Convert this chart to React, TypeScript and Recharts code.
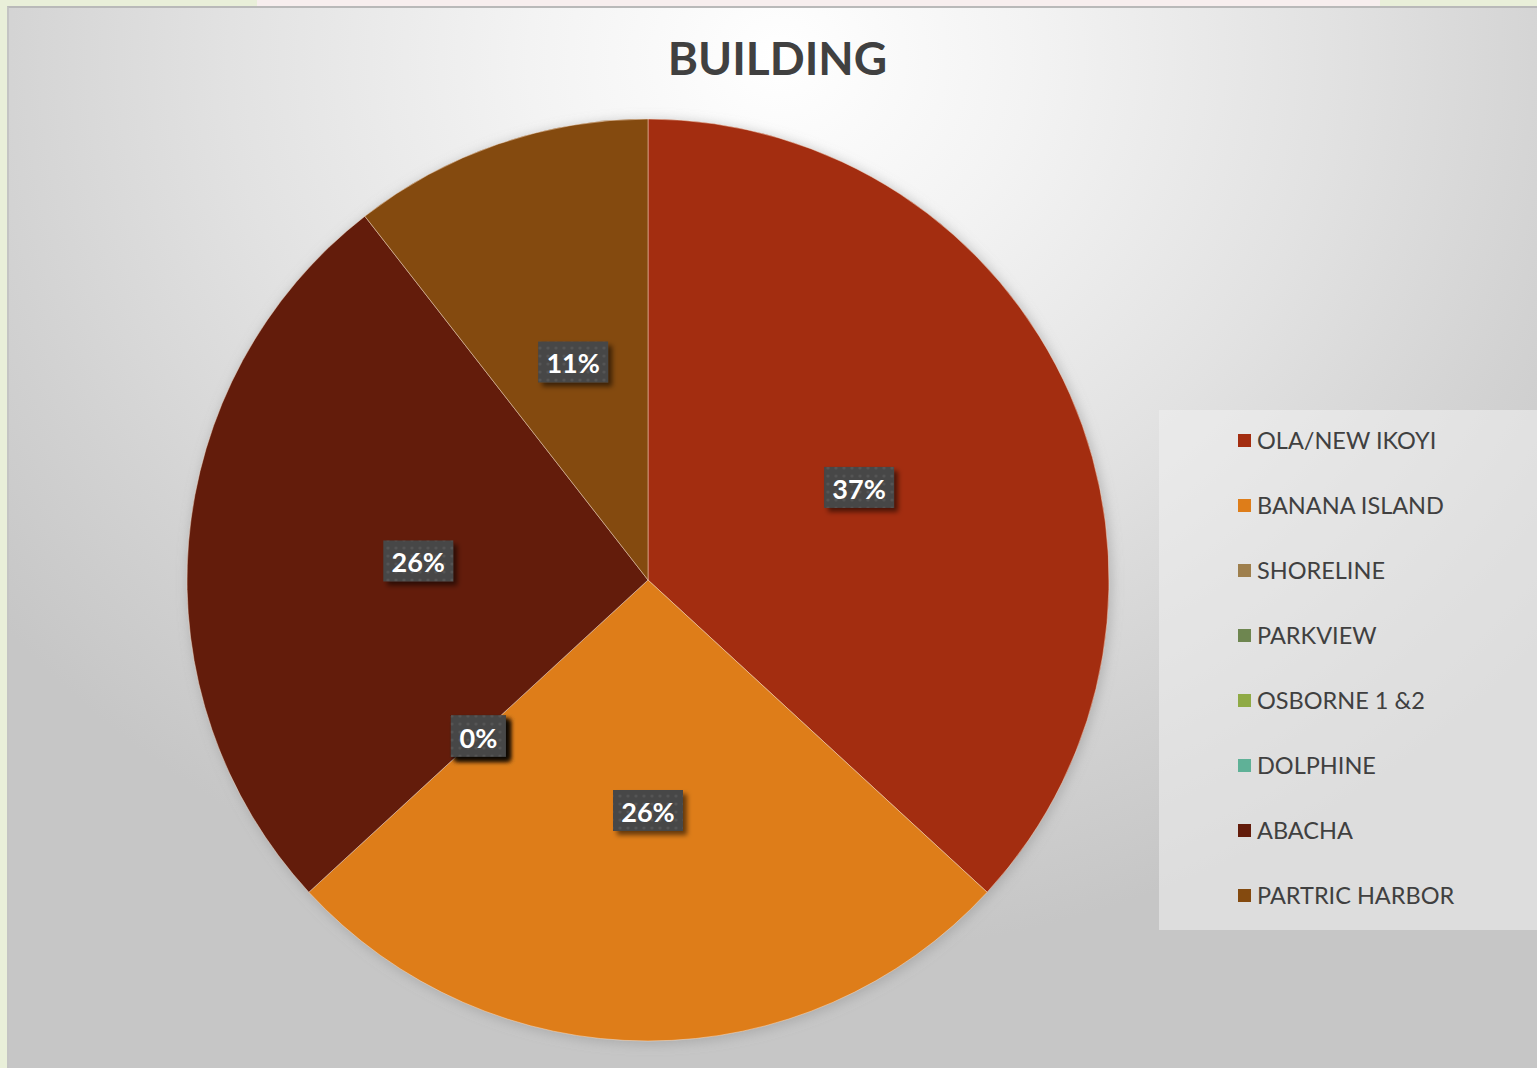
import { PieChart, Pie, Cell, Legend, Sector } from 'recharts';

const areas = ['OLA/NEW IKOYI', 'BANANA ISLAND', 'SHORELINE', 'PARKVIEW', 'OSBORNE 1 &2', 'DOLPHINE', 'ABACHA', 'PARTRIC HARBOR'];
const buildings = [7, 5, 0, 0, 0, 0, 5, 2];
const colors = ['#a32d10', '#de7d19', '#9e7f4d', '#6e8650', '#8faa45', '#5fb197', '#631c0b', '#844a0f'];
const halo = [1];

const data = areas.map((name, i) => ({ name, value: buildings[i] }));

const FONT = 'Lato, "Open Sans", sans-serif';
const RADIAN = Math.PI / 180;

function PctLabel(props: any) {
  const { cx, cy, midAngle, outerRadius, percent } = props;
  const r = outerRadius * 0.5;
  const x = cx + r * Math.cos(-midAngle * RADIAN);
  const y = cy + r * Math.sin(-midAngle * RADIAN);
  const text = `${Math.round(percent * 100)}%`;
  const w = text.length > 2 ? 70 : 55;
  const h = 41;
  return (
    <g>
      <rect x={x - w / 2} y={y - h / 2} width={w} height={h} fill="#464646" filter="url(#boxShadow)" />
      <rect x={x - w / 2} y={y - h / 2} width={w} height={h} fill="url(#dots)" />
      <text
        x={x}
        y={y + 1}
        fill="#ffffff"
        textAnchor="middle"
        dominantBaseline="central"
        fontFamily={FONT}
        fontWeight={700}
        fontSize={27}
      >
        {text}
      </text>
    </g>
  );
}

function LegendBox() {
  return (
    <div style={{ width: 378, height: 520, background: 'rgba(240,240,240,0.55)', position: 'relative' }}>
      {areas.map((name, i) => (
        <div
          key={name}
          style={{
            position: 'absolute',
            left: 79,
            top: 31 + i * 65 - 15,
            height: 28,
            display: 'flex',
            alignItems: 'center',
            fontFamily: FONT,
            fontSize: 23.5,
            color: '#404040',
            whiteSpace: 'nowrap',
          }}
        >
          <span style={{ display: 'inline-block', width: 13, height: 13, background: colors[i], marginRight: 6 }} />
          {name}
        </div>
      ))}
    </div>
  );
}

export default function App() {
  return (
    <div style={{ position: 'fixed', left: 0, top: 0, width: 1537, height: 1068, background: '#e9efd9', overflow: 'hidden' }}>
      <div style={{ position: 'absolute', left: 257, top: 0, width: 1123, height: 7, background: '#f7eeee' }} />
      <div
        style={{
          position: 'absolute',
          left: 7,
          top: 6,
          width: 1530,
          height: 1062,
          boxSizing: 'border-box',
          borderTop: '2px solid #b9b9b9',
          borderLeft: '2px solid #c4c4c4',
          background:
            'radial-gradient(ellipse 1000px 900px at 770px 50px, #ffffff 0%, #f3f3f3 25%, #e2e2e2 55%, #d2d2d2 80%, #c6c6c6 100%)',
        }}
      />
      <div
        style={{
          position: 'absolute',
          left: 0,
          top: 30,
          width: 1555,
          textAlign: 'center',
          fontFamily: FONT,
          fontWeight: 700,
          fontSize: 46,
          color: '#404040',
        }}
      >
        BUILDING
      </div>
      <div style={{ position: 'absolute', left: 0, top: 0 }}>
        <PieChart width={1537} height={1068} margin={{ top: 0, right: 0, bottom: 0, left: 0 }}>
          <defs>
            <filter id="boxShadow" x="-30%" y="-30%" width="180%" height="200%">
              <feDropShadow dx="4" dy="4" stdDeviation="2.5" floodColor="#000" floodOpacity="0.55" />
            </filter>
            <filter id="haloBlur" x="-10%" y="-10%" width="120%" height="120%">
              <feGaussianBlur stdDeviation="6" />
            </filter>
            <pattern id="dots" width="8" height="8" patternUnits="userSpaceOnUse">
              <circle cx="4" cy="4" r="1.6" fill="#ffffff" fillOpacity="0.08" />
            </pattern>
          </defs>
          <Pie
            data={halo.map((v) => ({ value: v }))}
            dataKey="value"
            cx={650}
            cy={582}
            outerRadius={462}
            startAngle={90}
            endAngle={-270}
            stroke="none"
            fill="#8a8a8a"
            fillOpacity={0.45}
            isAnimationActive={false}
            legendType="none"
            shape={(p: any) => <Sector {...p} filter="url(#haloBlur)" />}
          />
          <Pie
            data={data}
            dataKey="value"
            nameKey="name"
            cx={648}
            cy={580}
            outerRadius={461}
            startAngle={90}
            endAngle={-270}
            stroke="rgba(255,230,210,0.45)"
            strokeWidth={1}
            label={PctLabel}
            labelLine={false}
            isAnimationActive={false}
          >
            {data.map((d, i) => (
              <Cell key={d.name} fill={colors[i]} />
            ))}
          </Pie>
          <Legend
            content={() => <LegendBox />}
            wrapperStyle={{ position: 'absolute', left: 1159, top: 410, width: 378, height: 520 }}
          />
        </PieChart>
      </div>
    </div>
  );
}
